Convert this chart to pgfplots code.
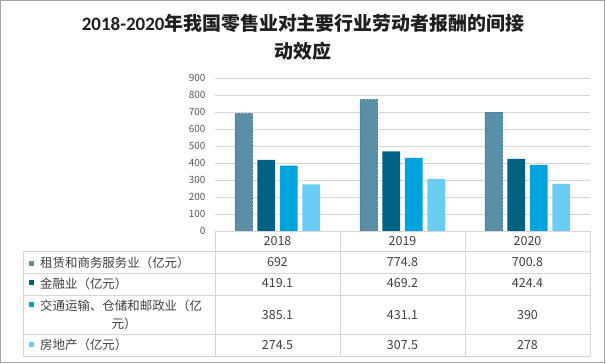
\documentclass[border=0pt]{standalone}
\usepackage{fontspec}
\setmainfont{Noto Sans CJK SC}
\newfontfamily\carlito{Carlito}
\usepackage{pgfplots}
\pgfplotsset{compat=1.18}
\definecolor{cA}{HTML}{5B8FA6}
\definecolor{cAline}{HTML}{4F8199}
\definecolor{cB}{HTML}{006283}
\definecolor{cC}{HTML}{00A3DC}
\definecolor{cD}{HTML}{6BCDF3}
\definecolor{gridc}{HTML}{D6D6D6}
\definecolor{txt}{HTML}{404040}
\definecolor{tickc}{HTML}{595959}
\definecolor{frame}{HTML}{A6A6A6}
\begin{document}
\begin{tikzpicture}[x=1bp,y=1bp]
\useasboundingbox (0,0) rectangle (606,363);
\fill[white] (0,0) rectangle (606,363);
\draw[frame, line width=1bp] (0.5,0.7) rectangle (604.5,362.5);
% title
\node[anchor=base, inner sep=0, font=\fontsize{19}{19}\selectfont\bfseries, text=black!88] at (303,333)
  {{\carlito\bfseries 2018-2020}年我国零售业对主要行业劳动者报酬的间接};
\node[anchor=base, inner sep=0, font=\fontsize{19}{19}\selectfont\bfseries, text=black!88] at (303,304.5)
  {动效应};
\begin{axis}[
  at={(215bp,132bp)}, anchor=south west,
  width=375bp, height=152.7bp, scale only axis,
  xmin=-0.5, xmax=2.5, ymin=0, ymax=900,
  ytick={0,100,...,900}, xtick=\empty,
  axis lines=left,
  y axis line style={white, line width=0.01pt, -},
  x axis line style={gridc, line width=1bp, -},
  major tick length=0pt,
  ymajorgrids=true,
  y grid style={draw=gridc, line width=1bp},
  yticklabel style={font=\fontsize{10}{10}\selectfont, text=tickc, xshift=-6bp},
  /pgf/number format/assume math mode=true,
  ybar, bar width=17.7bp,
]
\pgfplotsinvokeforeach{100,200,300,400,500,600,700,800,900}{
  \draw[gridc, line width=1bp] (axis cs:-0.5,#1) -- (axis cs:2.5,#1);
}
\addplot[fill=cA, draw=cAline, line width=0.4bp, densely dotted, bar shift=-33.75bp]
  coordinates {(0,692) (1,774.8) (2,700.8)};
\addplot[fill=cB, draw=none, bar shift=-11.25bp]
  coordinates {(0,419.1) (1,469.2) (2,424.4)};
\addplot[fill=cC, draw=none, bar shift=11.25bp]
  coordinates {(0,385.1) (1,431.1) (2,390)};
\addplot[fill=cD, draw=none, bar shift=33.75bp]
  coordinates {(0,274.5) (1,307.5) (2,278)};
\end{axis}
% table lines
\begin{scope}[gridc, line width=1bp]
\draw (215,132) -- (590,132);
\foreach \yy in {111.3,89.7,67.7,28.7,6.7} { \draw (23.3,\yy) -- (590,\yy); }
\draw (23.3,111.3) -- (23.3,6.7);
\foreach \xx in {215,340,465.5,590} { \draw (\xx,132) -- (\xx,6.7); }
\end{scope}
% legend keys
\fill[cA] (29,97) rectangle (34,102);
\fill[cB] (29,78) rectangle (34,83);
\fill[cC] (29,56) rectangle (34,61);
\fill[cD] (29,16.3) rectangle (34,21.3);
\begin{scope}[every node/.style={inner sep=0, text=txt, font=\fontsize{12.5}{12.5}\selectfont}]
\node[anchor=west] at (40,100.5) {租赁和商务服务业（亿元）};
\node[anchor=west] at (40,79.5) {金融业（亿元）};
\node[anchor=west] at (40,57) {交通运输、仓储和邮政业（亿};
\node at (124,39) {元）};
\node[anchor=west] at (40,18) {房地产（亿元）};
% header
\node at (277.5,121.6) {2018};
\node at (402.5,121.6) {2019};
\node at (527.5,121.6) {2020};
% values
\node at (277.5,100.5) {692};
\node at (402.5,100.5) {774.8};
\node at (527.5,100.5) {700.8};
\node at (277.5,79.5) {419.1};
\node at (402.5,79.5) {469.2};
\node at (527.5,79.5) {424.4};
\node at (277.5,48) {385.1};
\node at (402.5,48) {431.1};
\node at (527.5,48) {390};
\node at (277.5,18) {274.5};
\node at (402.5,18) {307.5};
\node at (527.5,18) {278};
\end{scope}
\end{tikzpicture}
\end{document}
